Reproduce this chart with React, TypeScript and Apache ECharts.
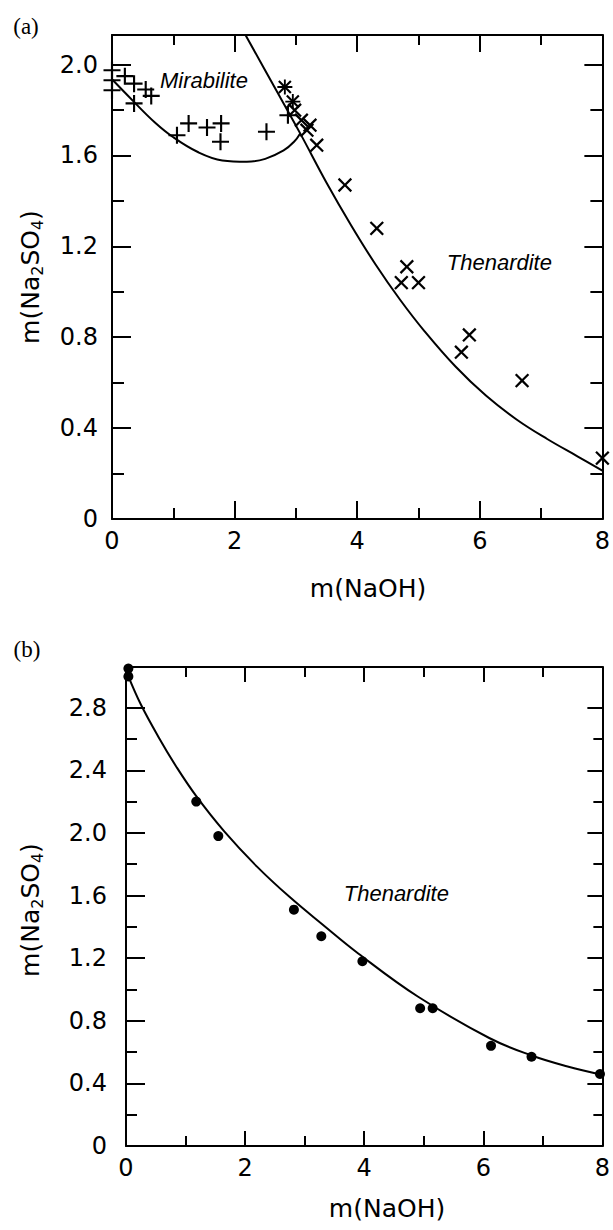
import React, { useEffect, useRef } from "react";
import * as echarts from "echarts";

const FONT = "DejaVu Sans";

// ---------------- ticks ----------------
const xTicksMajor = [0, 2, 4, 6, 8];
const xTicksMinor = [1, 3, 5, 7];
const yTicksMajorA = [0, 0.4, 0.8, 1.2, 1.6, 2.0];
const yTicksMinorA = [0.2, 0.6, 1.0, 1.4, 1.8];
const yTicksMajorB = [0, 0.4, 0.8, 1.2, 1.6, 2.0, 2.4, 2.8];
const yTicksMinorB = [0.2, 0.6, 1.0, 1.4, 1.8, 2.2, 2.6];
const xMin = 0;
const xMax = 8;
const yMaxA = 2.13;
const yMaxB = 3.06;

// ---------------- panel (a) data ----------------
// Mirabilite (+)
const mirabiliteX = [0, 0.21, 0, 0.36, 0, 0.55, 0.64, 0.36, 1.06, 1.25, 1.55, 1.78, 1.77, 2.52, 2.87];
const mirabiliteY = [1.975, 1.949, 1.931, 1.916, 1.887, 1.89, 1.862, 1.829, 1.689, 1.741, 1.723, 1.741, 1.66, 1.704, 1.777];
// Asterisk points
const asteriskX = [2.82, 2.95];
const asteriskY = [1.901, 1.837];
// Thenardite (x)
const thenarditeAX = [2.98, 3.09, 3.23, 3.18, 3.34, 3.8, 4.32, 4.81, 4.72, 5.0, 5.83, 5.7, 6.69, 8.0];
const thenarditeAY = [1.799, 1.755, 1.733, 1.711, 1.645, 1.47, 1.279, 1.11, 1.04, 1.04, 0.81, 0.734, 0.609, 0.268];
// Model curves
const mirabCurveX = [0, 0.35, 0.7, 1.0, 1.4, 1.8, 2.2, 2.5, 2.8, 2.97, 3.07];
const mirabCurveY = [1.935, 1.838, 1.745, 1.68, 1.615, 1.578, 1.572, 1.585, 1.622, 1.66, 1.697];
const thenCurveAX = [2.18, 2.6, 3.07, 3.5, 3.9, 4.3, 4.7, 5.1, 5.6, 6.1, 6.6, 7.1, 7.6, 8.0];
const thenCurveAY = [2.129, 1.925, 1.697, 1.48, 1.293, 1.12, 0.965, 0.826, 0.672, 0.543, 0.438, 0.352, 0.275, 0.213];

// ---------------- panel (b) data ----------------
const thenarditeBX = [0.04, 0.04, 1.18, 1.55, 2.82, 3.28, 3.97, 4.94, 5.15, 6.13, 6.81, 7.96];
const thenarditeBY = [3.05, 3.0, 2.2, 1.98, 1.51, 1.34, 1.18, 0.88, 0.88, 0.64, 0.57, 0.46];
const thenCurveBX = [0.04, 0.25, 0.55, 0.85, 1.18, 1.65, 2.2, 2.75, 3.3, 3.9, 4.9, 6.1, 6.8, 7.4, 8.0];
const thenCurveBY = [3.0, 2.82, 2.61, 2.42, 2.235, 2.01, 1.785, 1.59, 1.415, 1.23, 0.955, 0.69, 0.58, 0.51, 0.455];

// ---------------- annotations ----------------
const annotA = [
  { x: 1.5, y: 1.931, text: "Mirabilite" },
  { x: 6.32, y: 1.131, text: "Thenardite" },
];
const annotB = [{ x: 4.54, y: 1.61, text: "Thenardite" }];

const zip = (xs: number[], ys: number[]) => xs.map((x, i) => [x, ys[i]]);

const PLUS = "path://M7,0H9V7H16V9H9V16H7V9H0V7H7Z";

const fmtY = (v: number) => (v === 0 ? "0" : v.toFixed(1));
const fmtX = (v: number) => String(Math.round(v));

function tickAxis(
  gridIndex: number,
  position: string,
  min: number,
  max: number,
  values: number[],
  len: number,
  opts: any = {}
) {
  return {
    gridIndex,
    type: "value",
    min,
    max,
    position,
    splitLine: { show: false },
    axisLine: { show: !!opts.line, onZero: false, lineStyle: { color: "#000", width: 2 } },
    axisTick: {
      show: true,
      inside: true,
      length: len,
      customValues: values,
      lineStyle: { color: "#000", width: 2 },
    },
    axisLabel: opts.labels
      ? {
          show: true,
          customValues: values,
          formatter: opts.formatter,
          color: "#000",
          fontFamily: FONT,
          fontSize: 24,
          margin: opts.margin,
        }
      : { show: false },
  };
}

const yName = "{a|m(Na}{s|2}{a|SO}{s|4}{a|)}";
const yNameRich = {
  a: { fontSize: 25, fontFamily: FONT, lineHeight: 30, fill: "#000", color: "#000" },
  s: { fontSize: 16, fontFamily: FONT, lineHeight: 16, verticalAlign: "bottom", fill: "#000", color: "#000" },
};

function textEl(x: number, y: number, text: string, font: string, rotation = 0, rich?: any) {
  return {
    type: "text",
    x,
    y,
    rotation,
    silent: true,
    style: {
      text,
      font,
      fill: "#000",
      align: "center",
      verticalAlign: "middle",
      textAlign: "center",
      textVerticalAlign: "middle",
      rich,
    },
  };
}

const markStyle = { color: "#000", opacity: 1 };

function annotSeries(xi: number, yi: number, items: any[]) {
  return {
    type: "scatter",
    xAxisIndex: xi,
    yAxisIndex: yi,
    symbol: "circle",
    symbolSize: 1,
    silent: true,
    itemStyle: { color: "rgba(0,0,0,0)", opacity: 1 },
    data: items.map((d) => ({ value: [d.x, d.y], name: d.text })),
    label: {
      show: true,
      position: "inside",
      formatter: "{b}",
      fontFamily: "Liberation Sans",
      fontStyle: "italic",
      fontSize: 22,
      color: "#000",
      opacity: 1,
    },
  };
}

export default function App() {
  const ref = useRef<HTMLDivElement>(null);

  useEffect(() => {
    if (!ref.current) return;
    const chart = echarts.init(ref.current, null, { renderer: "svg" });

    const option: any = {
      animation: false,
      backgroundColor: "#fff",
      grid: [
        { left: 112, top: 35, width: 494, height: 484 },
        { left: 126, top: 667, width: 477, height: 479 },
      ],
      xAxis: [
        tickAxis(0, "bottom", xMin, xMax, xTicksMajor, 18, { line: true, labels: true, formatter: fmtX, margin: 10 }),
        tickAxis(0, "bottom", xMin, xMax, xTicksMinor, 11),
        tickAxis(0, "top", xMin, xMax, xTicksMajor, 17, { line: true }),
        tickAxis(0, "top", xMin, xMax, xTicksMinor, 10),
        tickAxis(1, "bottom", xMin, xMax, xTicksMajor, 15, { line: true, labels: true, formatter: fmtX, margin: 10 }),
        tickAxis(1, "bottom", xMin, xMax, xTicksMinor, 10),
        tickAxis(1, "top", xMin, xMax, xTicksMajor, 15, { line: true }),
        tickAxis(1, "top", xMin, xMax, xTicksMinor, 10),
      ],
      yAxis: [
        tickAxis(0, "left", 0, yMaxA, yTicksMajorA, 19, { line: true, labels: true, formatter: fmtY, margin: 14 }),
        tickAxis(0, "left", 0, yMaxA, yTicksMinorA, 12),
        tickAxis(0, "right", 0, yMaxA, yTicksMajorA, 18, { line: true }),
        tickAxis(0, "right", 0, yMaxA, yTicksMinorA, 12),
        tickAxis(1, "left", 0, yMaxB, yTicksMajorB, 19, { line: true, labels: true, formatter: fmtY, margin: 19 }),
        tickAxis(1, "left", 0, yMaxB, yTicksMinorB, 11),
        tickAxis(1, "right", 0, yMaxB, yTicksMajorB, 15, { line: true }),
        tickAxis(1, "right", 0, yMaxB, yTicksMinorB, 9),
      ],
      series: [
        {
          type: "line",
          xAxisIndex: 0,
          yAxisIndex: 0,
          data: zip(mirabCurveX, mirabCurveY),
          smooth: 0.4,
          symbol: "none",
          silent: true,
          lineStyle: { color: "#000", width: 2 },
        },
        {
          type: "line",
          xAxisIndex: 0,
          yAxisIndex: 0,
          data: zip(thenCurveAX, thenCurveAY),
          smooth: 0.4,
          symbol: "none",
          silent: true,
          lineStyle: { color: "#000", width: 2 },
        },
        {
          type: "scatter",
          xAxisIndex: 0,
          yAxisIndex: 0,
          data: zip(mirabiliteX, mirabiliteY),
          symbol: PLUS,
          symbolSize: 17,
          itemStyle: markStyle,
          silent: true,
        },
        {
          type: "scatter",
          xAxisIndex: 0,
          yAxisIndex: 0,
          data: zip(thenarditeAX, thenarditeAY),
          symbol: PLUS,
          symbolSize: 18,
          symbolRotate: 45,
          itemStyle: markStyle,
          silent: true,
        },
        {
          type: "scatter",
          xAxisIndex: 0,
          yAxisIndex: 0,
          data: zip(asteriskX, asteriskY),
          symbol: PLUS,
          symbolSize: 15,
          itemStyle: markStyle,
          silent: true,
        },
        {
          type: "scatter",
          xAxisIndex: 0,
          yAxisIndex: 0,
          data: zip(asteriskX, asteriskY),
          symbol: PLUS,
          symbolSize: 17,
          symbolRotate: 45,
          itemStyle: markStyle,
          silent: true,
        },
        annotSeries(0, 0, annotA),
        {
          type: "line",
          xAxisIndex: 4,
          yAxisIndex: 4,
          data: zip(thenCurveBX, thenCurveBY),
          smooth: 0.4,
          symbol: "none",
          silent: true,
          lineStyle: { color: "#000", width: 2 },
        },
        {
          type: "scatter",
          xAxisIndex: 4,
          yAxisIndex: 4,
          data: zip(thenarditeBX, thenarditeBY),
          symbol: "circle",
          symbolSize: 10,
          itemStyle: markStyle,
          silent: true,
        },
        annotSeries(4, 4, annotB),
      ],
      graphic: [
        textEl(26, 26, "(a)", '23px "Liberation Serif"'),
        textEl(27, 649, "(b)", '23px "Liberation Serif"'),
        textEl(368, 588, "m(NaOH)", `25px "${FONT}"`),
        textEl(387, 1208, "m(NaOH)", `25px "${FONT}"`),
        textEl(30, 277, yName, `25px "${FONT}"`, Math.PI / 2, yNameRich),
        textEl(30, 910, yName, `25px "${FONT}"`, Math.PI / 2, yNameRich),
      ],
    };

    chart.setOption(option);
    return () => chart.dispose();
  }, []);

  return (
    <div
      ref={ref}
      style={{ position: "absolute", left: 0, top: 0, width: 613, height: 1230, background: "#fff" }}
    />
  );
}
